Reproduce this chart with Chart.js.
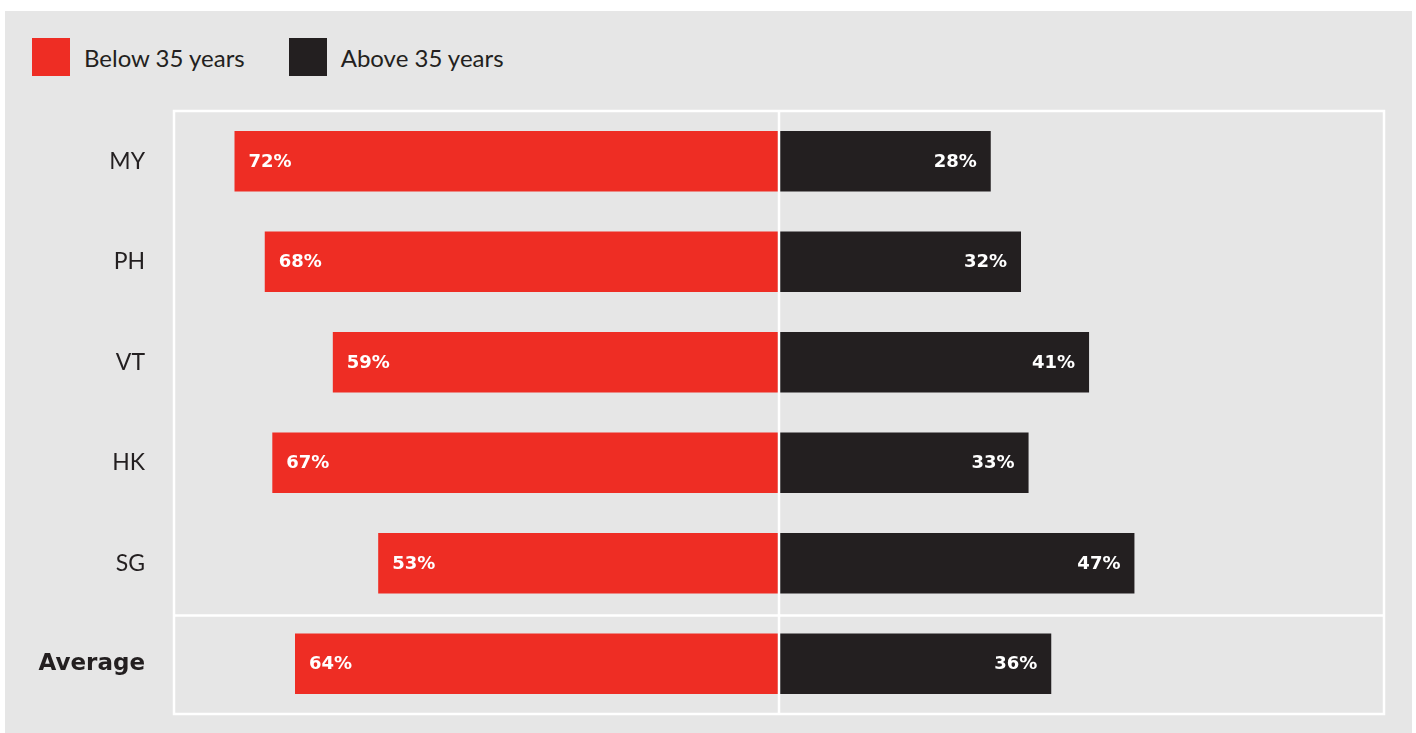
<!DOCTYPE html>
<html>
<head>
<meta charset="utf-8">
<script src="https://cdn.jsdelivr.net/npm/chart.js@4"></script>
<style>
  html, body { margin: 0; padding: 0; background: #ffffff; }
  body { width: 1416px; height: 733px; position: relative; overflow: hidden; font-family: Lato, "DejaVu Sans", sans-serif; }
  #panel { position: absolute; left: 5px; top: 11px; width: 1407px; height: 722px; background: #e6e6e6; }
  #legend { position: absolute; left: 32px; top: 38px; display: flex; align-items: center; color: #231f20; font-size: 24px; }
  .item { display: flex; align-items: center; }
  .swatch { width: 38px; height: 38px; margin-right: 14px; }
  #chartWrap { position: absolute; left: 0; top: 0; width: 1416px; height: 733px; }
  canvas { display: block; }
</style>
</head>
<body>
<div id="panel"></div>
<div id="legend">
  <div class="item"><span class="swatch" style="background:#ee2d24"></span><span>Below 35 years</span></div>
  <div class="item" style="margin-left:44px"><span class="swatch" style="background:#231f20"></span><span>Above 35 years</span></div>
</div>
<div id="chartWrap"><canvas id="chart" width="1416" height="733"></canvas></div>
<script>
// Age split of respondents by market
const categories = ['MY', 'PH', 'VT', 'HK', 'SG', 'Average'];
const belowValues = [72, 68, 59, 67, 53, 64];
const aboveValues = [28, 32, 41, 33, 47, 36];
const seriesNames = ['Below 35 years', 'Above 35 years'];

const RED = '#ee2d24';
const DARK = '#231f20';
const FRAME = '#ffffff';

// White frame round the plot, the centre divider and the rule above "Average"
const framePlugin = {
  id: 'frame',
  afterDatasetsDraw(chart) {
    const { ctx, chartArea: a, scales } = chart;
    const x0 = scales.x.getPixelForValue(0);
    const ySep = (scales.y.getPixelForValue(4) + scales.y.getPixelForValue(5)) / 2 + 2;
    ctx.save();
    ctx.strokeStyle = FRAME;
    ctx.lineWidth = 2.5;
    ctx.strokeRect(a.left, a.top, a.right - a.left, a.bottom - a.top);
    ctx.beginPath();
    ctx.moveTo(x0, a.top);
    ctx.lineTo(x0, a.bottom);
    ctx.moveTo(a.left, ySep);
    ctx.lineTo(a.right, ySep);
    ctx.stroke();
    ctx.restore();
  }
};

// Percentage labels inside each bar
const valueLabels = {
  id: 'valueLabels',
  afterDatasetsDraw(chart) {
    const { ctx } = chart;
    ctx.save();
    ctx.fillStyle = '#ffffff';
    ctx.font = 'bold 18px "DejaVu Sans", sans-serif';
    ctx.textBaseline = 'middle';
    chart.data.datasets.forEach((ds, di) => {
      const meta = chart.getDatasetMeta(di);
      meta.data.forEach((bar, i) => {
        const txt = Math.abs(ds.data[i]) + '%';
        if (di === 0) {
          ctx.textAlign = 'left';
          ctx.fillText(txt, bar.x + 14, bar.y + 1);
        } else {
          ctx.textAlign = 'right';
          ctx.fillText(txt, bar.x - 14, bar.y + 1);
        }
      });
    });
    ctx.restore();
  }
};

new Chart(document.getElementById('chart'), {
  type: 'bar',
  data: {
    labels: categories,
    datasets: [
      { label: seriesNames[0], data: belowValues.map(v => -v), backgroundColor: RED },
      { label: seriesNames[1], data: aboveValues, backgroundColor: DARK }
    ]
  },
  options: {
    indexAxis: 'y',
    responsive: false,
    animation: false,
    devicePixelRatio: 1,
    layout: { padding: { top: 111, bottom: 19, right: 32, left: 0 } },
    datasets: { bar: { barPercentage: 0.6, categoryPercentage: 1.0 } },
    plugins: {
      legend: { display: false },
      tooltip: { enabled: false }
    },
    scales: {
      x: {
        stacked: true,
        min: -80,
        max: 80,
        display: false,
        grid: { display: false }
      },
      y: {
        stacked: true,
        grid: { display: false, drawTicks: false },
        border: { display: false },
        afterFit(scale) {
          scale.width = 174;
          scale.paddingTop = 0;
          scale.paddingBottom = 0;
        },
        ticks: {
          padding: 29,
          color: DARK,
          font: (c) => c.index === 5
            ? { family: '"DejaVu Sans"', size: 23, weight: 'bold' }
            : { family: 'Lato', size: 23, weight: '400' }
        }
      }
    }
  },
  plugins: [framePlugin, valueLabels]
});
</script>
</body>
</html>
